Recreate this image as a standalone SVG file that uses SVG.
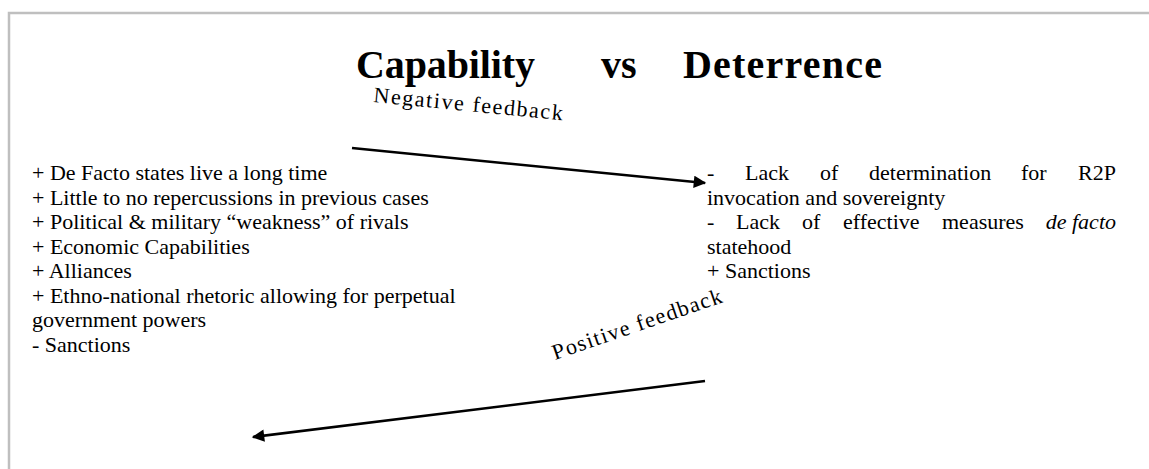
<svg xmlns="http://www.w3.org/2000/svg" width="1149" height="469" viewBox="0 0 1149 469">
  <style>
    .frame { fill: none; stroke: #bfbfbf; stroke-width: 2.5; }
    .title { font-family: "Liberation Serif", "Times New Roman", serif; font-size: 40px; font-weight: bold; fill: #000; }
    .item { font-family: "Liberation Serif", "Times New Roman", serif; font-size: 22px; fill: #000; }
    .label { font-family: "Liberation Serif", "Times New Roman", serif; font-size: 22px; fill: #000; }
    .link { stroke: #000; stroke-width: 2.5; fill: none; }
  </style>
  <defs>
    <marker id="head" viewBox="0 0 10 10" refX="9" refY="5" markerWidth="6.5" markerHeight="5" orient="auto" markerUnits="strokeWidth">
      <path d="M0,0 L10,5 L0,10 z" fill="#000"/>
    </marker>
  </defs>
  <rect width="1149" height="469" fill="#fff"/>
  <!-- page frame -->
  <path class="frame" d="M9,469 V13 H1149"/>

  <g id="title">
    <text class="title" x="356" y="78" textLength="179">Capability</text>
    <text class="title" x="601" y="78">vs</text>
    <text class="title" x="683" y="78" textLength="199">Deterrence</text>
  </g>

  <g id="capability">
    <text class="item" x="32" y="180">+ De Facto states live a long time</text>
    <text class="item" x="32" y="204.5">+ Little to no repercussions in previous cases</text>
    <text class="item" x="32" y="229">+ Political &amp; military “weakness” of rivals</text>
    <text class="item" x="32" y="253.5">+ Economic Capabilities</text>
    <text class="item" x="32" y="278">+ Alliances</text>
    <text class="item" x="32" y="302.5">+ Ethno-national rhetoric allowing for perpetual</text>
    <text class="item" x="32" y="327">government powers</text>
    <text class="item" x="32" y="351.5">- Sanctions</text>
  </g>

  <!-- justified paragraph: words spread evenly between 707 and 1116 -->
  <g id="deterrence">
    <text class="item" y="180"><tspan x="707">-</tspan><tspan x="745">Lack</tspan><tspan x="820">of</tspan><tspan x="869">determination</tspan><tspan x="1021">for</tspan><tspan x="1116" text-anchor="end">R2P</tspan></text>
    <text class="item" x="707" y="204.5">invocation and sovereignty</text>
    <text class="item" y="229"><tspan x="707">-</tspan><tspan x="736">Lack</tspan><tspan x="802">of</tspan><tspan x="843">effective</tspan><tspan x="942">measures</tspan><tspan x="1116" text-anchor="end" font-style="italic">de facto</tspan></text>
    <text class="item" x="707" y="253.5">statehood</text>
    <text class="item" x="707" y="278">+ Sanctions</text>
  </g>

  <g id="connectors">
    <line class="link" x1="352" y1="148" x2="705" y2="183" marker-end="url(#head)"/>
    <text class="label" transform="translate(373,102) rotate(5.5)" textLength="190">Negative feedback</text>
    <line class="link" x1="705" y1="381" x2="253" y2="437" marker-end="url(#head)"/>
    <text class="label" transform="translate(555,360) rotate(-19)" textLength="178">Positive feedback</text>
  </g>
</svg>
